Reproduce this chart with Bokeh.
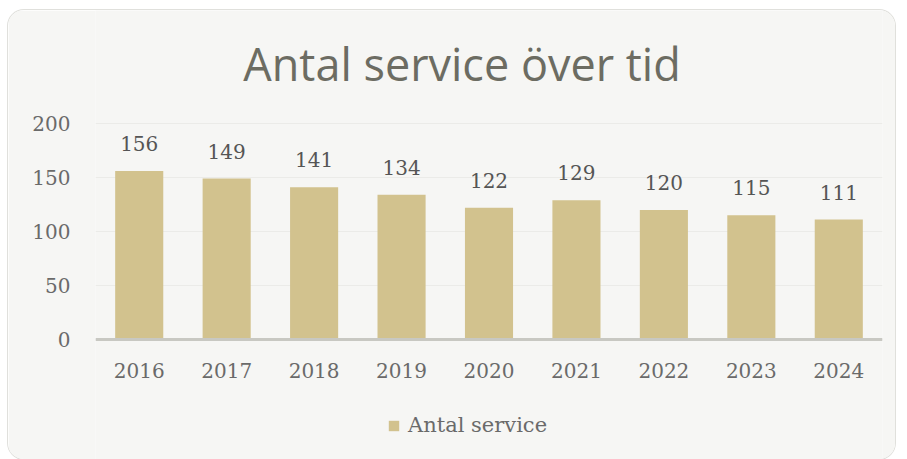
from bokeh.plotting import figure
from bokeh.models import ColumnDataSource, LabelSet, Legend, LegendItem, InlineStyleSheet, FactorRange, Span
from bokeh.core.properties import value
from bokeh.embed import file_html
from bokeh.resources import INLINE

years = ["2016", "2017", "2018", "2019", "2020", "2021", "2022", "2023", "2024"]
antal_service = [156, 149, 141, 134, 122, 129, 120, 115, 111]
y_ticks = [0, 50, 100, 150, 200]
series_name = "Antal service"
title_text = "Antal service över tid"

CARD = "#f6f6f4"
BAR = "#d2c28e"
SERIF = "DejaVu Serif"

# frame spans the whole card: 216 px for 0..200, 113 px above for the title, 120 px below
PX_PER_UNIT = 216 / 200
Y_MAX = 200 + 113 / PX_PER_UNIT
Y_MIN = -120 / PX_PER_UNIT

src = ColumnDataSource(dict(year=years, val=antal_service, lab=[str(v) for v in antal_service],
                            base=[0] * len(years)))

p = figure(
    x_range=FactorRange(*years, range_padding=0), y_range=(Y_MIN, Y_MAX),
    width=887, height=449, output_backend="svg", toolbar_location=None,
    min_border_left=87, min_border_right=13, min_border_top=0, min_border_bottom=0,
    background_fill_color=CARD, border_fill_color=CARD, outline_line_color=None,
    margin=(10, 0, 0, 8),
)
p.stylesheets = [InlineStyleSheet(css=":host{border-radius:16px;overflow:hidden;box-shadow:0 0 0 1px #e0e0dc;}")]

p.xgrid.grid_line_color = None
p.ygrid.ticker = y_ticks
p.ygrid.grid_line_color = "#ebebe8"
p.ygrid.grid_line_width = 1

r = p.vbar(x="year", top="val", width=0.55, source=src, fill_color=BAR, line_color=None)

p.add_layout(Span(location=0, dimension="width", line_color="#c8c8c2", line_width=3))

p.add_layout(LabelSet(x="year", y="val", text="lab", source=src, text_align="center",
                      text_baseline="bottom", y_offset=20, text_font=value(SERIF),
                      text_font_size=value("20px"), text_color=value("#555555")))

# category labels under the baseline
p.text(x="year", y="base", text="year", source=src, text_align="center", text_baseline="middle",
       y_offset=31, text_font=value(SERIF), text_font_size="20px", text_color="#6a6a6a")

# chart title
p.text(x=[years[4]], y=[y_ticks[-1]], text=[title_text], text_align="center",
       text_baseline="alphabetic", x_offset=-27, y_offset=-60,
       text_font=value("Open Sans"), text_font_size="45px", text_color="#6c6c62")

p.xaxis.visible = False
p.yaxis.ticker = y_ticks
p.yaxis.axis_line_color = None
p.yaxis.major_tick_line_color = None
p.yaxis.minor_tick_line_color = None
p.yaxis.major_label_standoff = 19
p.yaxis.major_label_text_font = SERIF
p.yaxis.major_label_text_font_size = "20px"
p.yaxis.major_label_text_color = "#6a6a6a"

legend = Legend(items=[LegendItem(label=series_name, renderers=[r])],
                orientation="horizontal", location=(292, 22),
                glyph_width=13, glyph_height=13, label_standoff=8,
                label_text_font=SERIF, label_text_font_size="21px", label_text_color="#6a6a6a",
                background_fill_alpha=0, border_line_color=None,
                margin=0, padding=0)
p.add_layout(legend, "center")

open("out.html", "w").write(file_html(p, INLINE))
